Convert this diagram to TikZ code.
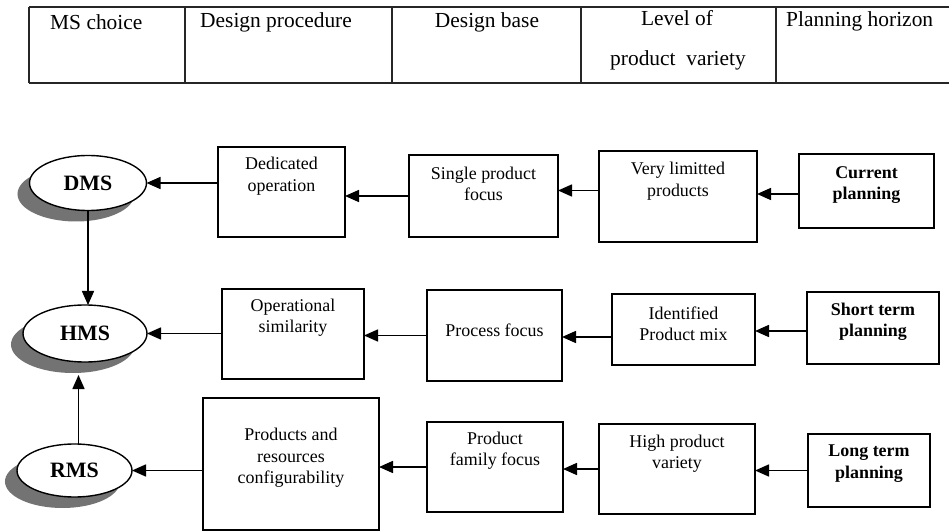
\documentclass[tikz,border=0pt]{standalone}
\usepackage{fontspec}
\setmainfont{Liberation Serif}
\usetikzlibrary{arrows.meta,shapes.geometric,shadows}
\begin{document}
\begin{tikzpicture}[x=1bp,y=-1bp,
  box/.style={draw, line width=1.4bp, rectangle, inner sep=0pt, outer sep=0pt},
  txt/.style={align=center, inner sep=0pt, font=\fontsize{18}{21.5}\selectfont},
  btxt/.style={align=center, inner sep=0pt, font=\fontsize{18}{21.5}\selectfont\bfseries},
  htxt/.style={inner sep=0pt, font=\fontsize{21.5}{25}\selectfont},
  ell/.style={draw, ellipse, fill=white, line width=1.4bp, inner sep=0pt, outer sep=0pt,
    font=\fontsize{22}{26}\selectfont\bfseries,
    drop shadow={shadow xshift=-12bp, shadow yshift=-11bp, fill=black!55, opacity=1}},
  arr/.style={draw, line width=1.5bp, -{Triangle[length=14bp,width=12bp]}},
  tline/.style={line width=1.2bp, draw=black!85}
]
\useasboundingbox (0,0) rectangle (949,532);
% header table
\draw[tline] (29,7) -- (949,7);
\draw[tline] (29,83) -- (949,83);
\foreach \xx in {29,185,392,581,776} \draw[tline] (\xx,7) -- (\xx,83);
\node[htxt, anchor=west] (h1) at (50,22) {MS choice};
\node[htxt, anchor=west] (h2) at (200,22) {Design procedure};
\node[htxt] (h3) at (487,22) {Design base};
\node[htxt] (h4a) at (677,18) {Level of};
\node[htxt] (h4b) at (678,60) {product\ \ variety};
\node[htxt, anchor=west] (h5) at (786,21) {Planning horizon};

% ellipses
\node[ell, minimum width=117bp, minimum height=55bp] (DMS) at (88,183) {DMS};
\node[ell, minimum width=124bp, minimum height=57bp] (HMS) at (85,333.5) {HMS};
\node[ell, minimum width=115bp, minimum height=53bp] (RMS) at (74.5,470.5) {RMS};

% row 1
\node[box, minimum width=127bp, minimum height=90bp] (ded) at (281.5,192) {};
\node[txt] (dedT) at (281.5,176) {Dedicated\\operation};
\node[box, minimum width=149bp, minimum height=82bp] (spf) at (483.5,196) {};
\node[txt] (spfT) at (483.5,184) {Single product\\focus};
\node[box, minimum width=158bp, minimum height=91bp] (vlp) at (678,196.5) {};
\node[txt] (vlpT) at (678,181) {Very limitted\\products};
\node[box, minimum width=135bp, minimum height=74bp] (cur) at (866.5,191) {};
\node[btxt] (curT) at (866.5,185) {Current\\planning};

% row 2
\node[box, minimum width=142bp, minimum height=90bp] (ops) at (293,334) {};
\node[txt] (opsT) at (293,318) {Operational\\similarity};
\node[box, minimum width=135bp, minimum height=91bp] (proc) at (494.5,335.5) {};
\node[txt] (procT) at (494.5,330) {Process focus};
\node[box, minimum width=143bp, minimum height=71bp] (ipm) at (683.5,329.5) {};
\node[txt] (ipmT) at (683.5,323.5) {Identified\\Product mix};
\node[box, minimum width=132bp, minimum height=72bp] (stp) at (873,328) {};
\node[btxt] (stpT) at (873,322) {Short term\\planning};

% row 3
\node[box, minimum width=176bp, minimum height=132bp] (prc) at (291,464) {};
\node[txt] (prcT) at (291,458) {Products and\\resources\\configurability};
\node[box, minimum width=136bp, minimum height=90bp] (pff) at (495,467) {};
\node[txt] (pffT) at (495,450.5) {Product\\family focus};
\node[box, minimum width=156bp, minimum height=90bp] (hpv) at (677,469) {};
\node[txt] (hpvT) at (677,453.5) {High product\\variety};
\node[box, minimum width=122bp, minimum height=73bp] (ltp) at (869,470.5) {};
\node[btxt] (ltpT) at (869,463.5) {Long term\\planning};

% arrows row 1
\draw[arr] (ded.west |- DMS.east) -- (DMS.east);
\draw[arr] (spf.west) -- (spf.west -| ded.east);
\draw[arr] ([yshift=6bp]vlp.west) -- ([yshift=6bp]vlp.west -| spf.east);
\draw[arr] ([yshift=-3bp]cur.west) -- ([yshift=-3bp]cur.west -| vlp.east);
% arrows row 2
\draw[arr] (ops.west |- HMS.east) -- (HMS.east);
\draw[arr] (proc.west) -- (proc.west -| ops.east);
\draw[arr] ([yshift=-7.5bp]ipm.west) -- ([yshift=-7.5bp]ipm.west -| proc.east);
\draw[arr] ([yshift=-3bp]stp.west) -- ([yshift=-3bp]stp.west -| ipm.east);
% arrows row 3
\draw[arr] (prc.west |- RMS.east) -- (RMS.east);
\draw[arr] (pff.west) -- (pff.west -| prc.east);
\draw[arr] (hpv.west) -- (hpv.west -| pff.east);
\draw[arr] (ltp.west) -- (ltp.west -| hpv.east);
% vertical arrows
\draw[arr] (DMS.south) -- (DMS.south |- HMS.north);
\coordinate (rmsn) at ([xshift=4bp]RMS.north);
\coordinate (hmsb) at ([yshift=-13bp]HMS.south);
\draw[arr] (rmsn) -- (rmsn |- hmsb);
\end{tikzpicture}
\end{document}
